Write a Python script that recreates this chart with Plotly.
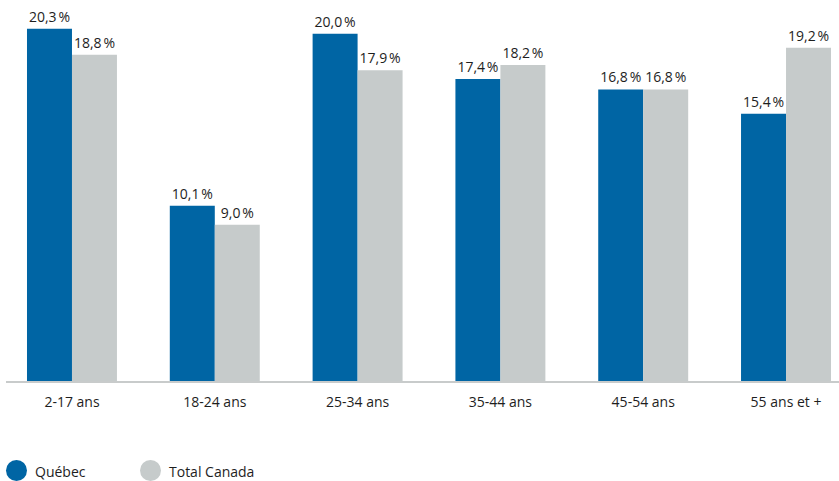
import plotly.graph_objects as go

# Age groups and share of each region's population (%)
categories = ["2-17 ans", "18-24 ans", "25-34 ans", "35-44 ans", "45-54 ans", "55 ans et +"]
series_names = ["Québec", "Total Canada"]
quebec = [20.3, 10.1, 20.0, 17.4, 16.8, 15.4]
canada = [18.8, 9.0, 17.9, 18.2, 16.8, 19.2]

colors = ["#0065a4", "#c6cbcb"]
font_family = "Open Sans, Roboto, sans-serif"
text_color = "#1e1e1e"


def fmt(v):
    return f"{v:.1f}".replace(".", ",") + "\u202f%"


fig = go.Figure()
for name, vals, col in zip(series_names, [quebec, canada], colors):
    fig.add_trace(go.Bar(
        x=categories,
        y=vals,
        name=name,
        marker=dict(color=col, line=dict(width=0)),
        text=[fmt(v) for v in vals],
        textposition="outside",
        textfont=dict(family=font_family, size=14, color=text_color),
        cliponaxis=False,
        showlegend=False,
    ))

# Legend drawn as round swatches with labels beneath the chart
legend_x = [6, 140]
for name, col, lx in zip(series_names, colors, legend_x):
    fig.add_shape(
        type="circle", xref="paper", yref="paper",
        xsizemode="pixel", ysizemode="pixel",
        xanchor=0, yanchor=0,
        x0=lx - 6, x1=lx - 6 + 21, y0=-79, y1=-100,
        fillcolor=col, line=dict(width=0),
    )
    fig.add_annotation(
        text=name, xref="paper", yref="paper",
        x=0, y=0, xshift=lx - 6 + 27, yshift=-90,
        xanchor="left", yanchor="middle", showarrow=False,
        font=dict(family=font_family, size=14, color=text_color),
    )

fig.update_layout(
    width=839, height=481,
    margin=dict(l=6, r=0, t=0, b=100),
    paper_bgcolor="white", plot_bgcolor="white",
    barmode="group", bargap=0.37, bargroupgap=0,
    xaxis=dict(
        type="category",
        range=[-0.462, 5.371],
        showline=True, linecolor="#c8cbcb", linewidth=2,
        showgrid=False, zeroline=False,
        ticks="", ticklabelstandoff=7,
        tickfont=dict(family=font_family, size=14, color=text_color),
    ),
    yaxis=dict(
        range=[0, 21.95],
        visible=False, showgrid=False, zeroline=False,
    ),
)

fig.write_html("out.html")
